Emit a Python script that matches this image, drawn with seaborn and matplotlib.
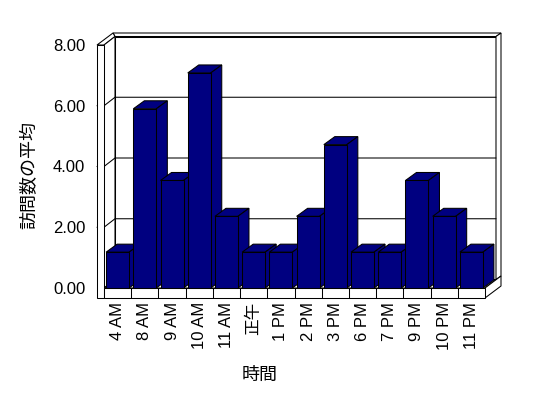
import matplotlib
matplotlib.use("Agg")
import matplotlib.pyplot as plt
import pandas as pd
import seaborn as sns
from matplotlib.patches import Polygon

# Average visits per hour.
HOURS = ["4 AM", "8 AM", "9 AM", "10 AM", "11 AM", "正午", "1 PM",
         "2 PM", "3 PM", "6 PM", "7 PM", "9 PM", "10 PM", "11 PM"]
AVG_VISITS = [1.18, 5.90, 3.54, 7.08, 2.36, 1.18, 1.18,
              2.36, 4.72, 1.18, 1.18, 3.54, 2.36, 1.18]
Y_TICKS = [0, 2, 4, 6, 8]
Y_TICK_LABELS = ["0.00", "2.00", "4.00", "6.00", "8.00"]
X_LABEL = "時間"
Y_LABEL = "訪問数の平均"

NAVY = "#000080"
LW = 0.75
# Front plane: 381 px wide for 14 categories, 243 px high for 8 units.
PX_X = 14 / 381
PX_Y = 8 / 243


def poly(ax, pts, z, face="white"):
    ax.add_patch(Polygon(pts, closed=True, facecolor=face, edgecolor="black",
                         linewidth=LW, clip_on=False, zorder=z))


def draw_box(ax, n, top):
    # Excel-like 3D walls and floor drawn around the front plane.
    x0, x1 = -0.5, n - 0.5
    xw = x0 - 7 * PX_X
    yb = -10 * PX_Y
    d1x, d1y = 11 * PX_X, 8.5 * PX_Y
    d2x, d2y = 16 * PX_X, 12 * PX_Y

    # back wall (inner face, top edge, right edge)
    poly(ax, [(x0 + d1x, d1y), (x1 + d1x, d1y), (x1 + d1x, top + d1y), (x0 + d1x, top + d1y)], 0.5)
    poly(ax, [(x0 + d1x, top + d1y), (x1 + d1x, top + d1y), (x1 + d2x, top + d2y), (xw + d2x, top + d2y)], 0.5)
    poly(ax, [(x1 + d1x, top + d1y), (x1 + d2x, top + d2y), (x1 + d2x, d2y), (x1 + d1x, d1y)], 0.5)
    # left wall
    poly(ax, [(xw, top), (x0, top), (x0 + d1x, top + d1y), (xw + d2x, top + d2y)], 0.5)
    poly(ax, [(x0, 0), (x0, top), (x0 + d1x, top + d1y), (x0 + d1x, d1y)], 0.5)
    poly(ax, [(xw, yb), (x0, yb), (x0, top), (xw, top)], 0.7)
    # floor
    poly(ax, [(x0, 0), (x1, 0), (x1 + d1x, d1y), (x0 + d1x, d1y)], 0.5)
    poly(ax, [(x1, 0), (x1, yb), (x1 + d2x, yb + d2y), (x1 + d2x, d2y)], 0.7)
    poly(ax, [(x0, yb), (x1, yb), (x1, 0), (x0, 0)], 0.7)
    for k in range(1, n):
        ax.plot([k - 0.5, k - 0.5], [yb, 0], color="black", lw=LW,
                clip_on=False, zorder=0.8)

    # gridlines across the left wall and the back wall
    for v in Y_TICKS[1:-1]:
        ax.plot([xw, x0, x0 + d1x, x1 + d1x], [v, v, v + d1y, v + d1y],
                color="black", lw=LW, clip_on=False, zorder=0.6)


def main() -> None:
    sns.set_theme(style="white")
    plt.rcParams["font.family"] = ["Liberation Sans", "Noto Sans CJK JP", "DejaVu Sans"]

    df = pd.DataFrame({"hour": HOURS, "visits": AVG_VISITS})

    fig = plt.figure(figsize=(5.48, 3.98), dpi=100)
    ax = fig.add_axes([104 / 548, 110 / 398, 381 / 548, 243 / 398])

    sns.barplot(data=df, x="hour", y="visits", color=NAVY, saturation=1,
                width=23 * PX_X, edgecolor="black", linewidth=LW,
                errorbar=None, ax=ax)

    draw_box(ax, len(HOURS), Y_TICKS[-1])

    # give each bar a top and a right side, painted left to right
    bdx, bdy = 11 * PX_X, 8 * PX_Y
    for i, bar in enumerate(ax.patches[:len(HOURS)]):
        x, w, h = bar.get_x(), bar.get_width(), bar.get_height()
        z = 2 + i * 0.1
        poly(ax, [(x, h), (x + w, h), (x + w + bdx, h + bdy), (x + bdx, h + bdy)], z, NAVY)
        poly(ax, [(x + w, 0), (x + w + bdx, bdy), (x + w + bdx, h + bdy), (x + w, h)], z, NAVY)
        bar.set_zorder(z + 0.05)
        bar.set_clip_on(False)

    ax.set_xlim(-0.5, len(HOURS) - 0.5)
    ax.set_ylim(0, Y_TICKS[-1])
    ax.set_yticks(Y_TICKS, Y_TICK_LABELS)
    sns.despine(ax=ax, left=True, bottom=True)
    ax.set_facecolor("none")
    ax.tick_params(axis="y", length=0, pad=13.5, labelsize=12, colors="black")
    ax.tick_params(axis="x", length=0, pad=10, labelsize=12, labelrotation=90, colors="black")

    ax.set_xlabel(X_LABEL, fontsize=13, color="black")
    ax.set_ylabel(Y_LABEL, fontsize=13, color="black")
    ax.xaxis.set_label_coords(0.409, -0.325)
    ax.yaxis.set_label_coords(-0.173, 0.465)

    fig.savefig("out.png", dpi=100, facecolor="white")
    plt.close(fig)


if __name__ == "__main__":
    main()
